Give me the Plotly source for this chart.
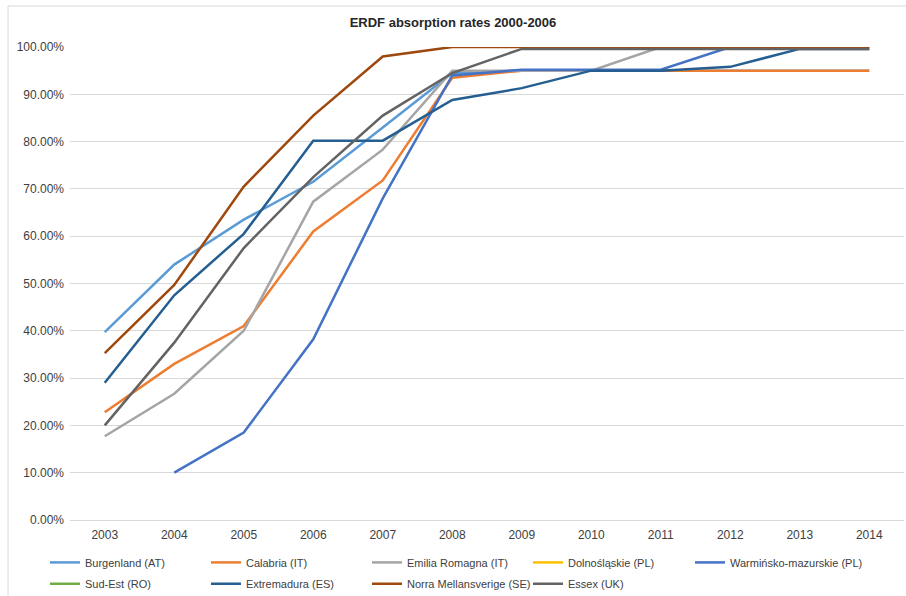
import plotly.graph_objects as go

years = ["2003", "2004", "2005", "2006", "2007", "2008", "2009", "2010", "2011", "2012", "2013", "2014"]

burgenland = [0.397, 0.540, 0.635, 0.715, 0.830, 0.945, 0.950, 0.950, 0.950, 0.950, 0.950, 0.950]
calabria = [0.228, 0.330, 0.410, 0.610, 0.718, 0.935, 0.950, 0.950, 0.950, 0.950, 0.950, 0.950]
emilia = [0.177, 0.267, 0.400, 0.673, 0.783, 0.950, 0.950, 0.950, 1.000, 1.000, 1.000, 1.000]
dolnoslaskie = [None] * 12
warminsko = [None, 0.100, 0.185, 0.382, 0.680, 0.940, 0.952, 0.952, 0.952, 1.000, 1.000, 1.000]
sud_est = [None] * 12
extremadura = [0.290, 0.475, 0.605, 0.802, 0.802, 0.888, 0.913, 0.950, 0.950, 0.958, 0.996, 0.996]
norra = [0.353, 0.497, 0.705, 0.855, 0.980, 1.000, 1.000, 1.000, 1.000, 1.000, 1.000, 1.000]
essex = [0.200, 0.375, 0.575, 0.725, 0.855, 0.945, 0.996, 0.996, 0.996, 0.996, 0.996, 0.996]

# (name, values, colour, legend block) - legend split so the long last label isn't clipped
series = [
    ("Burgenland (AT)", burgenland, "#5B9BD5", "legend"),
    ("Calabria (IT)", calabria, "#ED7D31", "legend"),
    ("Emilia Romagna (IT)", emilia, "#A5A5A5", "legend"),
    ("Dolnośląskie (PL)", dolnoslaskie, "#FFC000", "legend"),
    ("Warmińsko-mazurskie (PL)", warminsko, "#4472C4", "legend2"),
    ("Sud-Est (RO)", sud_est, "#70AD47", "legend3"),
    ("Extremadura (ES)", extremadura, "#255E91", "legend3"),
    ("Norra Mellansverige (SE)", norra, "#9E480E", "legend3"),
    ("Essex (UK)", essex, "#636363", "legend3"),
]

fig = go.Figure()
for name, vals, color, leg in series:
    fig.add_trace(go.Scatter(
        x=years, y=vals, name=name, mode="lines", legend=leg,
        line=dict(color=color, width=2.5),
        connectgaps=False, cliponaxis=False,
    ))

font_family = "Liberation Sans, Arial, sans-serif"
leg_font = dict(size=11, color="#404040")

fig.update_layout(
    width=906, height=596,
    margin=dict(l=70, r=2, t=47, b=76, autoexpand=False),
    paper_bgcolor="white", plot_bgcolor="white",
    font=dict(family=font_family, size=12, color="#404040"),
    title=dict(text="<b>ERDF absorption rates 2000-2006</b>", x=0.5, xanchor="center",
               y=0.963, yanchor="middle", font=dict(size=13, color="#262626")),
    xaxis=dict(type="category", range=[-0.5, 11.5], showgrid=False,
               showline=True, linecolor="#D9D9D9", linewidth=1, ticks="",
               ticklabelstandoff=4, tickfont=dict(size=12, color="#404040")),
    yaxis=dict(range=[0, 1.0], dtick=0.1, tickformat=".2%", showgrid=True,
               gridcolor="#D9D9D9", gridwidth=1, zeroline=False, showline=False,
               ticks="", ticklabelstandoff=5, tickfont=dict(size=12, color="#404040")),
    legend=dict(orientation="h", x=-0.030, xanchor="left", y=-0.059, yanchor="top",
                entrywidth=116, entrywidthmode="pixels", traceorder="normal",
                font=leg_font, itemwidth=30),
    legend2=dict(orientation="h", x=0.7434, xanchor="left", y=-0.059, yanchor="top",
                 font=leg_font, itemwidth=30),
    legend3=dict(orientation="h", x=-0.030, xanchor="left", y=-0.104, yanchor="top",
                 entrywidth=116, entrywidthmode="pixels", traceorder="normal",
                 font=leg_font, itemwidth=30),
    showlegend=True,
)

# light chart-area border (top and left edges visible in the reference)
fig.add_shape(type="line", xref="paper", yref="paper", x0=-0.0743, y0=1.0867, x1=1.01, y1=1.0867,
              line=dict(color="#D9D9D9", width=1))
fig.add_shape(type="line", xref="paper", yref="paper", x0=-0.0743, y0=1.0867, x1=-0.0743, y1=-0.17,
              line=dict(color="#D9D9D9", width=1))

fig.write_html("out.html", config={"displayModeBar": False},
               post_script="document.body.style.margin='0';")
